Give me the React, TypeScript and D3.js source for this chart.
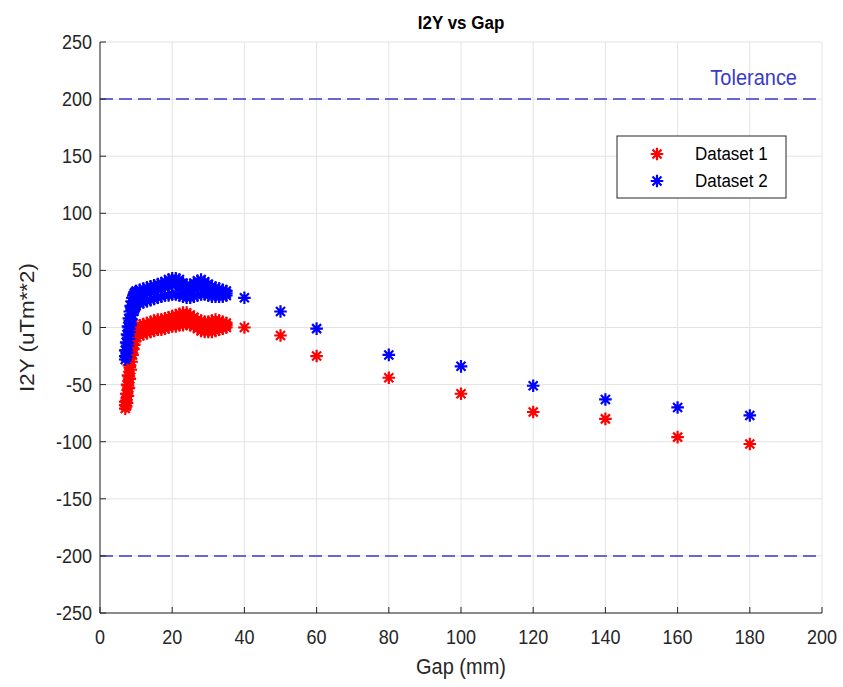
import React from 'react';
import * as d3 from 'd3';

const clusterGap = [7, 7.25, 7.5, 7.75, 8, 8.25, 8.5, 8.75, 9, 9.25, 9.5, 9.75, 10, 11, 12, 13, 14, 15, 16, 17, 18, 19, 20, 21, 22, 23, 24, 25, 26, 27, 28, 29, 30, 31, 32, 33, 34, 35];
const d1Hi = [-65, -58, -50, -42, -33, -25, -17, -11, -7, -4, -2, 0, 1, 2, 3, 4, 5, 6, 7, 7, 8, 9, 10, 11, 12, 13, 13, 11, 9, 7, 6, 5, 5, 6, 7, 6, 5, 4];
const d1Mid = [-68, -64, -58, -51, -43, -35, -27, -20, -15, -11, -8, -5, -4, -2, -1, 0, 1, 2, 2, 3, 4, 4, 5, 6, 7, 8, 8, 7, 5, 3, 1, 0, 0, 1, 2, 2, 2, 2];
const d1Lo = [-71, -69, -66, -60, -53, -45, -37, -30, -24, -19, -15, -12, -9, -7, -6, -5, -4, -3, -2, -2, -1, 0, 1, 1, 2, 2, 3, 2, 1, -1, -3, -4, -4, -4, -3, -2, -1, 0];
const d2Hi = [-20, -13, -6, 1, 8, 14, 19, 23, 26, 28, 30, 31, 32, 33, 34, 35, 36, 37, 38, 39, 40, 42, 43, 43, 42, 39, 37, 37, 39, 41, 42, 40, 38, 36, 35, 34, 33, 32];
const d2Mid = [-25, -20, -14, -7, 0, 6, 11, 15, 19, 21, 23, 25, 26, 27, 29, 30, 31, 32, 33, 34, 35, 36, 37, 38, 36, 33, 32, 32, 34, 35, 36, 35, 33, 32, 31, 31, 30, 30];
const d2Lo = [-28, -26, -22, -16, -10, -4, 2, 7, 11, 14, 16, 18, 19, 21, 22, 23, 24, 25, 26, 27, 28, 28, 29, 29, 28, 27, 26, 26, 27, 28, 29, 29, 28, 27, 27, 27, 27, 28];

const sparseGap = [40, 50, 60, 80, 100, 120, 140, 160, 180];
const d1Sparse = [0, -7, -25, -44, -58, -74, -80, -96, -102];
const d2Sparse = [26, 14, -1, -24, -34, -51, -63, -70, -77];

const xTicks = [0, 20, 40, 60, 80, 100, 120, 140, 160, 180, 200];
const yTicks = [-250, -200, -150, -100, -50, 0, 50, 100, 150, 200, 250];
const toleranceLevels = [200, -200];
const seriesNames = ['Dataset 1', 'Dataset 2'];
const seriesColors = ['#ff0000', '#0000ff'];

const W = 843;
const H = 687;
const FONT = "'Liberation Sans', Arial, Helvetica, sans-serif";
const STAR = 'M-6.3,0H6.3M0,-6.3V6.3M-4.5,-4.5L4.5,4.5M-4.5,4.5L4.5,-4.5';
const SY = 1.12;

function buildPoints(rows: number[][], sparse: number[]) {
  const pts: [number, number][] = [];
  rows.forEach((row) => row.forEach((v, i) => pts.push([clusterGap[i], v])));
  sparse.forEach((v, i) => pts.push([sparseGap[i], v]));
  return pts;
}

function T(props: { x: number; y: number; size: number; anchor?: string; fill?: string; weight?: string; rotate?: boolean; children: React.ReactNode }) {
  const { x, y, size, anchor = 'start', fill = '#262626', weight = 'normal', rotate = false, children } = props;
  const tr = `translate(${x},${y}) scale(1,${SY})${rotate ? ' rotate(-90)' : ''}`;
  return (
    <text transform={tr} textAnchor={anchor} fontSize={size} fill={fill} fontWeight={weight}>{children}</text>
  );
}

export default function App() {
  const x = d3.scaleLinear().domain([0, 200]).range([100, 822]);
  const y = d3.scaleLinear().domain([-250, 250]).range([613, 42]);
  const [x0, x1] = x.range();
  const [y0, y1] = y.range();
  const series = [
    buildPoints([d1Hi, d1Lo, d1Mid], d1Sparse),
    buildPoints([d2Hi, d2Lo, d2Mid], d2Sparse),
  ];
  const axisColor = '#262626';
  const gridColor = '#e3e3e3';
  const tolColor = '#3a3ac8';

  return (
    <svg width={W} height={H} style={{ position: 'absolute', left: 0, top: 0, background: '#fff' }} fontFamily={FONT}>
      <rect x={0} y={0} width={W} height={H} fill="#fff" />
      {xTicks.map((t) => (
        <line key={'gx' + t} x1={x(t)} x2={x(t)} y1={y1} y2={y0} stroke={gridColor} strokeWidth={1} />
      ))}
      {yTicks.map((t) => (
        <line key={'gy' + t} x1={x0} x2={x1} y1={y(t)} y2={y(t)} stroke={gridColor} strokeWidth={1} />
      ))}
      {toleranceLevels.map((t) => (
        <line key={'tol' + t} x1={x0} x2={x1} y1={y(t)} y2={y(t)} stroke={tolColor} strokeWidth={1.5} strokeDasharray="13,6" />
      ))}
      <T x={797} y={85} size={20} anchor="end" fill={tolColor}>Tolerance</T>
      {series.map((pts, si) => (
        <g key={'s' + si} stroke={seriesColors[si]} strokeWidth={2.2} fill="none">
          {pts.map((p, i) => (
            <path key={i} d={STAR} transform={`translate(${x(p[0])},${y(p[1])})`} />
          ))}
        </g>
      ))}
      <line x1={x0} x2={x0} y1={y1} y2={y0} stroke={axisColor} strokeWidth={1} />
      <line x1={x0} x2={x1} y1={y0} y2={y0} stroke={axisColor} strokeWidth={1} />
      {xTicks.map((t) => (
        <g key={'xt' + t}>
          <line x1={x(t)} x2={x(t)} y1={y0} y2={y0 - 6} stroke={axisColor} />
          <T x={x(t)} y={y0 + 31} size={18} anchor="middle">{t}</T>
        </g>
      ))}
      {yTicks.map((t) => (
        <g key={'yt' + t}>
          <line x1={x0} x2={x0 + 6} y1={y(t)} y2={y(t)} stroke={axisColor} />
          <T x={x0 - 8} y={y(t) + 7} size={18} anchor="end">{t}</T>
        </g>
      ))}
      <T x={461} y={29} size={17} anchor="middle" fill="#000" weight="bold">I2Y vs Gap</T>
      <T x={461} y={674} size={20} anchor="middle">Gap (mm)</T>
      <T x={34} y={(y0 + y1) / 2} size={20} anchor="middle" rotate>I2Y (uTm**2)</T>
      <rect x={617} y={136} width={169} height={62} fill="#fff" stroke={axisColor} strokeWidth={1} />
      {seriesNames.map((n, i) => (
        <g key={'lg' + i}>
          <path d={STAR} transform={`translate(657,${154 + i * 27})`} stroke={seriesColors[i]} strokeWidth={2.2} fill="none" />
          <T x={695} y={160 + i * 27} size={17} fill="#000">{n}</T>
        </g>
      ))}
    </svg>
  );
}
